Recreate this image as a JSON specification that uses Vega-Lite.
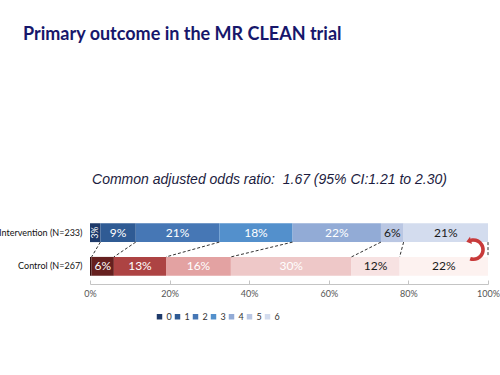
{
  "$schema": "https://vega.github.io/schema/vega-lite/v6.json",
  "width": 398,
  "height": 69,
  "autosize": "none",
  "padding": {"left": 90, "top": 215, "right": 12, "bottom": 91},
  "background": "white",
  "config": {"view": {"stroke": null}},
  "title": {
    "text": "Primary outcome in the MR CLEAN trial",
    "anchor": "start",
    "frame": "group",
    "dx": -67,
    "offset": 128,
    "font": "Lato",
    "fontSize": 18,
    "fontWeight": "bold",
    "color": "#17176b"
  },
  "datasets": {
    "bars": [
      {"group": "Intervention (N=233)", "cat": 0, "key": "I0", "pct": 2.6, "label": "3%"},
      {"group": "Intervention (N=233)", "cat": 1, "key": "I1", "pct": 8.9, "label": "9%"},
      {"group": "Intervention (N=233)", "cat": 2, "key": "I2", "pct": 21.0, "label": "21%"},
      {"group": "Intervention (N=233)", "cat": 3, "key": "I3", "pct": 18.4, "label": "18%"},
      {"group": "Intervention (N=233)", "cat": 4, "key": "I4", "pct": 22.2, "label": "22%"},
      {"group": "Intervention (N=233)", "cat": 5, "key": "I5", "pct": 5.7, "label": "6%"},
      {"group": "Intervention (N=233)", "cat": 6, "key": "I6", "pct": 21.2, "label": "21%"},
      {"group": "Control (N=267)", "cat": 0, "key": "C0", "pct": 0.4, "label": ""},
      {"group": "Control (N=267)", "cat": 1, "key": "C1", "pct": 5.6, "label": "6%"},
      {"group": "Control (N=267)", "cat": 2, "key": "C2", "pct": 13.1, "label": "13%"},
      {"group": "Control (N=267)", "cat": 3, "key": "C3", "pct": 16.3, "label": "16%"},
      {"group": "Control (N=267)", "cat": 4, "key": "C4", "pct": 30.3, "label": "30%"},
      {"group": "Control (N=267)", "cat": 5, "key": "C5", "pct": 12.1, "label": "12%"},
      {"group": "Control (N=267)", "cat": 6, "key": "C6", "pct": 22.2, "label": "22%"}
    ],
    "links": [
      {"from": "Intervention (N=233)", "to": "Control (N=267)", "a": 2.6, "b": 0.4},
      {"from": "Intervention (N=233)", "to": "Control (N=267)", "a": 11.5, "b": 6.0},
      {"from": "Intervention (N=233)", "to": "Control (N=267)", "a": 32.5, "b": 19.1},
      {"from": "Intervention (N=233)", "to": "Control (N=267)", "a": 50.9, "b": 35.4},
      {"from": "Intervention (N=233)", "to": "Control (N=267)", "a": 73.1, "b": 65.7},
      {"from": "Intervention (N=233)", "to": "Control (N=267)", "a": 78.8, "b": 77.8},
      {"from": "Intervention (N=233)", "to": "Control (N=267)", "a": 100, "b": 100}
    ]
  },
  "resolve": {"axis": {"x": "independent"}},
  "layer": [
    {
      "data": {"name": "bars"},
      "mark": {"type": "bar", "strokeWidth": 0},
      "encoding": {
        "x": {
          "field": "pct", "type": "quantitative", "stack": "zero",
          "scale": {"domain": [0, 100], "nice": false},
          "axis": {
            "orient": "bottom",
            "values": [0, 20, 40, 60, 80, 100],
            "labelExpr": "datum.value + '%'",
            "title": null,
            "grid": false,
            "domainColor": "#c4c4c4",
            "tickColor": "#c4c4c4",
            "tickSize": -4,
            "labelPadding": 9,
            "labelFont": "Lato",
            "labelFontSize": 9,
            "labelColor": "#555555",
            "labelFlush": false
          }
        },
        "y": {
          "field": "group", "type": "nominal",
          "scale": {"domain": ["Intervention (N=233)", "Control (N=267)"], "paddingInner": 0.44, "paddingOuter": 0.245},
          "axis": {
            "title": null, "ticks": false, "domain": false,
            "labelFont": "Lato", "labelFontSize": 9, "labelColor": "#111111", "labelPadding": 8
          }
        },
        "order": {"field": "cat", "type": "quantitative"},
        "color": {
          "field": "key", "type": "nominal",
          "scale": {
            "domain": ["I0", "I1", "I2", "I3", "I4", "I5", "I6", "C0", "C1", "C2", "C3", "C4", "C5", "C6"],
            "range": ["#1e3a6a", "#2f5b94", "#4677b5", "#5390cc", "#92abd6", "#bac7e3", "#d3dcee",
                      "#3a0e0e", "#66201f", "#ad4343", "#e3a2a2", "#eec8c8", "#f7e2e2", "#fdf2f0"]
          },
          "legend": {
            "orient": "none",
            "legendX": 65,
            "legendY": 97,
            "direction": "horizontal",
            "title": null,
            "values": ["I0", "I1", "I2", "I3", "I4", "I5", "I6"],
            "labelExpr": "substring(datum.label, 1)",
            "symbolType": "square",
            "symbolSize": 30,
            "symbolStrokeWidth": 0,
            "labelFont": "Lato",
            "labelFontSize": 9,
            "labelColor": "#333333",
            "labelOffset": 2.5,
            "columnPadding": 1
          }
        }
      }
    },
    {
      "data": {"name": "bars"},
      "mark": {"type": "text", "font": "Lato", "fontSize": 12},
      "encoding": {
        "x": {"field": "pct", "type": "quantitative", "stack": "zero", "bandPosition": 0.5, "axis": null},
        "y": {"field": "group", "type": "nominal"},
        "order": {"field": "cat", "type": "quantitative"},
        "text": {"condition": {"test": "datum.key === 'I0'", "value": ""}, "field": "label"},
        "color": {"condition": {"test": "datum.cat >= 5", "value": "#1a1a1a"}, "value": "#ffffff"}
      }
    },
    {
      "data": {"name": "bars"},
      "mark": {"type": "text", "font": "Lato", "fontSize": 8.5, "angle": 270, "color": "#ffffff"},
      "encoding": {
        "x": {"field": "pct", "type": "quantitative", "stack": "zero", "bandPosition": 0.5, "axis": null},
        "y": {"field": "group", "type": "nominal"},
        "order": {"field": "cat", "type": "quantitative"},
        "text": {"condition": {"test": "datum.key === 'I0'", "field": "label"}, "value": ""}
      }
    },
    {
      "data": {"name": "links"},
      "mark": {"type": "rule", "strokeDash": [3, 2], "strokeWidth": 1, "color": "#333333"},
      "encoding": {
        "x": {"field": "a", "type": "quantitative", "axis": null},
        "x2": {"field": "b"},
        "y": {"field": "from", "type": "nominal", "bandPosition": 1},
        "y2": {"field": "to", "bandPosition": 0}
      }
    },
    {
      "data": {"values": [{}]},
      "mark": {
        "type": "point",
        "shape": "M -0.396 -0.918 A 0.95 0.95 0 1 1 -0.475 0.893 L -0.372 0.611 A 0.65 0.65 0 1 0 -0.318 -0.628 Z M -0.44 -1.082 L -0.743 -0.669 L -0.274 -0.464 Z",
        "size": 576,
        "filled": true,
        "fill": "#c83a3a",
        "strokeWidth": 0,
        "opacity": 1,
        "yOffset": 17
      },
      "encoding": {
        "x": {
          "datum": 96.8, "type": "quantitative",
          "axis": {
            "orient": "top",
            "title": "Common adjusted odds ratio:\u00a0 1.67 (95% CI:1.21 to 2.30)",
            "labels": false, "ticks": false, "domain": false, "grid": false,
            "titleFont": "Liberation Sans",
            "titleFontStyle": "italic",
            "titleFontWeight": "normal",
            "titleFontSize": 14,
            "titleColor": "#1c1c40",
            "titleX": 179,
            "titleY": -32,
            "titleAlign": "center",
            "titleBaseline": "alphabetic"
          }
        },
        "y": {"datum": "Intervention (N=233)", "type": "nominal"}
      }
    }
  ]
}
